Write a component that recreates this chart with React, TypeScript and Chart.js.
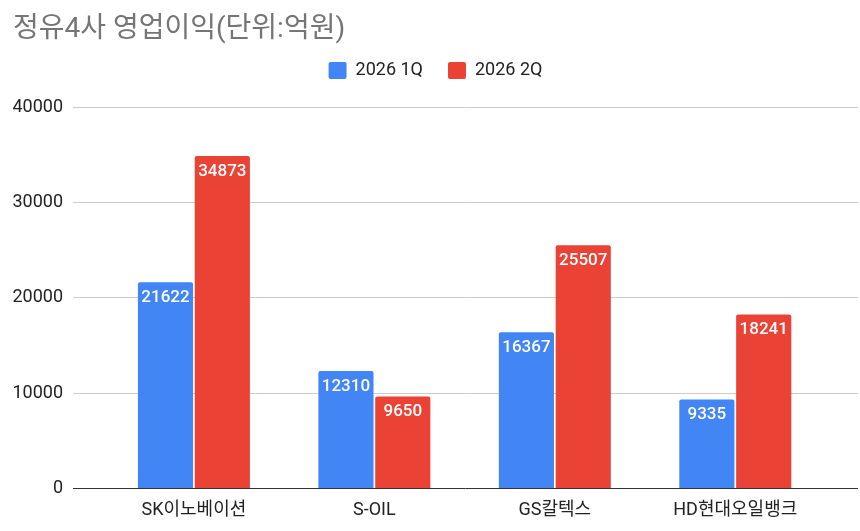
import React, { useEffect, useRef } from 'react';
import { Chart, registerables } from 'chart.js';

Chart.register(...registerables);

const companies = ['SK이노베이션', 'S-OIL', 'GS칼텍스', 'HD현대오일뱅크'];
const seriesNames = ['2026 1Q', '2026 2Q'];
const q1Profit = [21622, 12310, 16367, 9335];
const q2Profit = [34873, 9650, 25507, 18241];
const yTicks = [0, 10000, 20000, 30000, 40000];

const FONT = "Roboto, 'Noto Sans CJK KR', sans-serif";

// white value text inside the top of each bar
const barLabels = {
  id: 'barLabels',
  afterDatasetsDraw(chart: any) {
    const ctx = chart.ctx;
    ctx.save();
    ctx.fillStyle = '#ffffff';
    ctx.font = `500 17px ${FONT}`;
    ctx.textAlign = 'center';
    ctx.textBaseline = 'middle';
    chart.data.datasets.forEach((ds: any, di: number) => {
      chart.getDatasetMeta(di).data.forEach((bar: any, i: number) => {
        ctx.fillText(String(ds.data[i].y), bar.x, bar.y + 15.5);
      });
    });
    ctx.restore();
  },
};

// more room under the legend
const legendGap = {
  id: 'legendGap',
  beforeInit(chart: any) {
    const fit = chart.legend.fit;
    chart.legend.fit = function () {
      fit.bind(chart.legend)();
      this.height += 17.5;
    };
  },
};

const App: React.FC = () => {
  const chartRef = useRef<HTMLCanvasElement | null>(null);
  const chartInstance = useRef<Chart | null>(null);

  useEffect(() => {
    if (!chartRef.current) return;
    const ctx = chartRef.current.getContext('2d');
    if (!ctx) return;
    if (chartInstance.current) chartInstance.current.destroy();

    chartInstance.current = new Chart(ctx, {
      type: 'bar',
      data: {
        datasets: [
          {
            label: seriesNames[0],
            data: companies.map((_, i) => ({ x: i, y: q1Profit[i] })),
            backgroundColor: '#4285F4',
            borderRadius: { topLeft: 2, topRight: 2 },
            borderSkipped: 'bottom',
          },
          {
            label: seriesNames[1],
            data: companies.map((_, i) => ({ x: i, y: q2Profit[i] })),
            backgroundColor: '#EA4335',
            borderRadius: { topLeft: 2, topRight: 2 },
            borderSkipped: 'bottom',
          },
        ],
      } as any,
      options: {
        animation: false,
        responsive: true,
        maintainAspectRatio: false,
        categoryPercentage: 0.63,
        barPercentage: 0.97,
        layout: { padding: { left: 13, right: 2, top: 0, bottom: 7 } },
        scales: {
          x: {
            type: 'linear',
            offset: false,
            min: -0.67,
            max: 3.68,
            afterBuildTicks: (scale: any) => {
              scale.ticks = companies.map((_, i) => ({ value: i }));
            },
            grid: { display: false },
            border: { display: false },
            ticks: {
              callback: (v: any) => companies[v as number],
              color: '#222222',
              font: { family: FONT, size: 18 },
              padding: 3,
              maxRotation: 0,
              autoSkip: false,
            },
          },
          y: {
            min: 0,
            max: 40000,
            afterBuildTicks: (scale: any) => {
              scale.ticks = yTicks.map((v) => ({ value: v }));
            },
            afterFit: (scale: any) => {
              scale.width = 60;
            },
            grid: {
              color: (c: any) => (c.tick && c.tick.value === 0 ? '#333333' : '#cccccc'),
              drawTicks: false,
            },
            border: { display: false },
            ticks: {
              callback: (v: any) => String(v),
              color: '#222222',
              font: { family: FONT, size: 18 },
              padding: 10,
            },
          },
        },
        plugins: {
          title: {
            display: true,
            text: '정유4사 영업이익(단위:억원)',
            align: 'start',
            color: '#757575',
            font: { family: FONT, size: 28, weight: 'normal', lineHeight: 1 },
            padding: { top: 16, bottom: -7.5 },
          },
          legend: {
            position: 'top',
            labels: {
              color: '#222222',
              font: { family: FONT, size: 18 },
              boxWidth: 18,
              boxHeight: 17,
              useBorderRadius: true,
              borderRadius: 2,
              padding: 25,
            },
          },
          tooltip: { enabled: false },
        },
      } as any,
      plugins: [barLabels, legendGap],
    });

    return () => {
      if (chartInstance.current) {
        chartInstance.current.destroy();
        chartInstance.current = null;
      }
    };
  }, []);

  return (
    <div style={{ position: 'absolute', left: 0, top: 0, width: 860, height: 531 }}>
      <canvas ref={chartRef}></canvas>
    </div>
  );
};

export default App;
